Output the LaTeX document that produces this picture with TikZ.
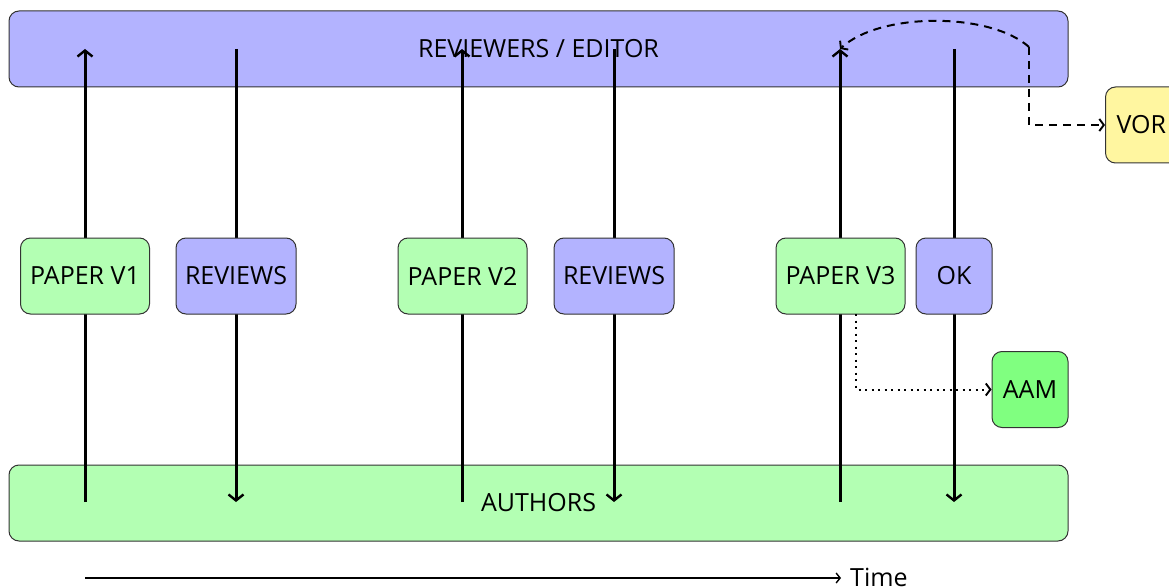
\documentclass[tikz,border=0pt]{standalone}
\usepackage{fontspec}
\setmainfont{Open Sans}
\usetikzlibrary{arrows.meta}
\definecolor{revblue}{HTML}{B3B3FF}
\definecolor{authgreen}{HTML}{B3FFB3}
\definecolor{aamgreen}{HTML}{80FF80}
\definecolor{voryellow}{HTML}{FFF6A0}
\definecolor{edge}{HTML}{333333}
\begin{document}
\begin{tikzpicture}[x=1pt,y=-1pt,
  every node/.style={font=\fontsize{25}{29}\selectfont},
  bar/.style={draw=edge, line width=1pt, rounded corners=10pt, minimum width=1059pt, minimum height=76pt, inner sep=0pt},
  box/.style={draw=edge, line width=1pt, rounded corners=10pt, minimum height=76pt, inner sep=0pt},
  flow/.style={line width=3pt, -{Straight Barb[length=6pt,width=15pt,line width=2.4pt]}},
  dashflow/.style={line width=2pt, dash pattern=on 8pt off 6pt, -{Straight Barb[length=4.5pt,width=12pt,line width=1.9pt]}},
  dotflow/.style={line width=2pt, dash pattern=on 2pt off 4.5pt, -{Straight Barb[length=4.5pt,width=12pt,line width=1.9pt]}},
  timeflow/.style={line width=1.6pt, -{Straight Barb[length=4pt,width=10pt,line width=1.4pt]}}
]
\useasboundingbox (0,0) rectangle (1169,588);
\begin{scope}
\clip (0,0) rectangle (1169,588);
% bars
\node[bar, fill=revblue] (rev) at (538.5,49) {};
\node[bar, fill=authgreen] (auth) at (538.5,503) {};
\node (revtxt) at (538.5,49) {REVIEWERS / EDITOR};
\node (authtxt) at (538.5,503) {AUTHORS};
% side boxes
\node[box, fill=voryellow, minimum width=90pt, anchor=west] (vor) at (1105,125) {};
\node[anchor=west] (vortxt) at (1113,125) {VOR};
\node[box, fill=aamgreen, minimum width=76pt] (aam) at (1030,389.5) {AAM};
% anchor coordinates
\foreach \n/\x in {a/85,b/236,c/462,d/614,e/840,f/954}{
  \coordinate (\n top) at (\x,49);
  \coordinate (\n bot) at (\x,502);
}
% flows
\draw[flow] (abot) -- (atop);
\draw[flow] (btop) -- (bbot);
\draw[flow] (cbot) -- (ctop);
\draw[flow] (dtop) -- (dbot);
\draw[flow] (ebot) -- (etop);
\draw[flow] (ftop) -- (fbot);
% middle boxes
\node[box, fill=authgreen, minimum width=129pt] (p1) at (85,276) {PAPER V1};
\node[box, fill=revblue, minimum width=120pt] (r1) at (236,276) {REVIEWS};
\node[box, fill=authgreen, minimum width=129pt] (p2) at (462.5,276) {PAPER V2};
\node[box, fill=revblue, minimum width=120pt] (r2) at (614,276) {REVIEWS};
\node[box, fill=authgreen, minimum width=129pt] (p3) at (840.5,276) {PAPER V3};
\node[box, fill=revblue, minimum width=76pt] (ok) at (954,276) {OK};
% dotted to AAM
\coordinate (dstart) at (856,314);
\draw[dotflow] (dstart) |- (aam.west);
% dashed: VOR
\coordinate (corner) at (1029,47);
\draw[dashflow] (corner) .. controls (990,12) and (880,12) .. (etop);
\draw[dashflow] (corner) |- (vor.west);
% time axis
\coordinate (t0) at (85,578);
\coordinate (t1) at (841,578);
\draw[timeflow] (t0) -- (t1);
\node[anchor=west, inner sep=0pt] (time) at (850,577) {Time};
\end{scope}
\end{tikzpicture}
\end{document}
